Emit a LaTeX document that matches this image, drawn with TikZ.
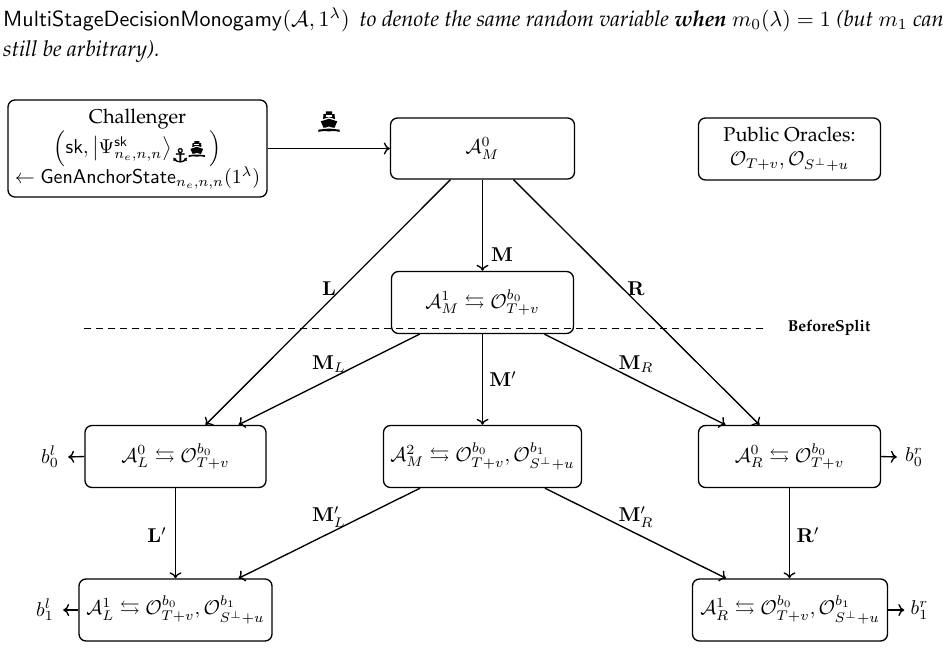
\documentclass[tikz,border=0pt]{standalone}
\usepackage{graphicx}
\usepackage{amsmath,amssymb}
\usepackage[no-math]{fontspec}
\newfontfamily\dejavuf[FakeBold=1.2]{DejaVu Sans}
\usetikzlibrary{calc,arrows.meta}
% ship glyph drawn as a solid shape, #1 = size of its 24-unit grid
\newcommand{\shipicon}[1]{\begin{tikzpicture}[x=#1/24,y=#1/24,baseline={(0,5.5)},sharp corners]
  \fill (8.5,24) -- (15.5,24) -- (15.5,21) -- (18,21) -- (18.5,15.5) -- (12,17.5) -- (5.5,15.5) -- (6,21) -- (8.5,21) -- cycle;
  \fill[white] (8.5,20) rectangle (15.5,18.2);
  \fill (12,15.8) -- (21,13) -- (18,6) .. controls (16,5.5) and (14,7) .. (12,7.5) .. controls (10,7) and (8,5.5) .. (6,6) -- (3,13) -- cycle;
  \fill (0.5,4) .. controls (3,3.5) and (5,5) .. (7,4.8) .. controls (9,4.5) and (10,4) .. (12,5) .. controls (14,4) and (15,4.5) .. (17,4.8) .. controls (19,5) and (21,3.5) .. (23.5,4) -- (23.5,1.5) .. controls (21,1.5) and (19,3) .. (17,2.5) -- (12,2) -- (7,2.5) .. controls (5,3) and (3,1.5) .. (0.5,1.5) -- cycle;
\end{tikzpicture}}
\newcommand{\anchoricon}{{\fontsize{9.5}{10}\dejavuf\symbol{"2693}}}
\newcommand{\cO}{\mathcal{O}}
\newcommand{\cA}{\mathcal{A}}
\newcommand{\OT}{\cO_{T+v}^{b_0}}
\newcommand{\OS}{\cO_{S^\perp+u}^{b_1}}
\newcommand{\pal}{\usefont{OT1}{ppl}{m}{n}}
\newcommand{\lab}[1]{\scalebox{2}{#1}}
\tikzset{
  stagebox/.style={draw,rounded corners=7pt,line width=1.35pt,inner sep=0pt,align=center},
  flow/.style={draw,line width=1.35pt,-{Computer Modern Rightarrow[length=6pt,width=12pt,line width=1.35pt]}},
  edgelabel/.style={inner sep=0pt},
  outlabel/.style={inner ysep=0pt,inner xsep=0pt},
  toptext/.style={inner sep=0pt,anchor=base west}
}
\begin{document}
\begin{tikzpicture}[x=1pt,y=-1pt]
\useasboundingbox (0,0) rectangle (948,649);
\node[toptext] (topa) at (3,26) {\scalebox{2.2}{$\mathsf{MultiStageDecisionMonogamy}(\cA,1^\lambda)$}\hspace{10pt}\scalebox{2.185}{\usefont{OT1}{ppl}{m}{it}to denote the same random variable \usefont{OT1}{ppl}{b}{it}when \usefont{OT1}{ppl}{m}{it}$m_0(\lambda)=1$ (but $m_1$ can}};
\node[toptext] (topb) at (3,56) {\scalebox{2.2}{\usefont{OT1}{ppl}{m}{it}still be arbitrary).}};
\node[stagebox,minimum width=259pt,minimum height=97pt] (ch) at (137.5,148.5) {\lab{\begin{tabular}{@{}c@{}}{\pal Challenger}\\[0pt]
  $\Big(\mathsf{sk},\left|\Psi^{\mathsf{sk}}_{n_e,n,n}\right\rangle_{\smash{\text{\anchoricon\raisebox{-3.5pt}{\shipicon{8.5pt}}}}}\Big)$\\[0pt]
  $\leftarrow\mathsf{GenAnchorState}_{n_e,n,n}(1^\lambda)$\end{tabular}}};
\node[stagebox,minimum width=184pt,minimum height=61pt] (am0) at (482.5,148.5) {\lab{$\cA_M^0$}};
\node[stagebox,minimum width=182pt,minimum height=62pt] (po) at (789.5,149) {\lab{\begin{tabular}{@{}c@{}}{\pal Public Oracles:}\\[0pt]$\cO_{T+v},\cO_{S^\perp+u}$\end{tabular}}};
\node[stagebox,minimum width=182pt,minimum height=62pt] (am1) at (482.5,302.5) {\lab{$\cA_M^1\leftrightarrows\OT$}};
\node[stagebox,minimum width=181pt,minimum height=62pt] (al0) at (175.5,456.5) {\lab{$\cA_L^0\leftrightarrows\OT$}};
\node[stagebox,minimum width=198pt,minimum height=62pt] (am2) at (482.5,456.5) {\lab{$\cA_M^2\leftrightarrows\OT,\OS$}};
\node[stagebox,minimum width=182pt,minimum height=62pt] (ar0) at (789.5,456.5) {\lab{$\cA_R^0\leftrightarrows\OT$}};
\node[stagebox,minimum width=193pt,minimum height=62pt] (al1) at (175.5,610) {\lab{$\cA_L^1\leftrightarrows\OT,\OS$}};
\node[stagebox,minimum width=195pt,minimum height=62pt] (ar1) at (790,610) {\lab{$\cA_R^1\leftrightarrows\OT,\OS$}};
\node[outlabel,minimum width=36pt] (bl0) at (50,457) {\lab{$b_0^l$}};
\node[outlabel,minimum width=36pt] (bl1) at (45,610) {\lab{$b_1^l$}};
\node[outlabel,minimum width=34pt] (br0) at (914,457) {\lab{$b_0^r$}};
\node[outlabel,minimum width=30pt] (br1) at (919.5,610) {\lab{$b_1^r$}};
\coordinate (dl) at (84,328.5);
\coordinate (dr) at (767,328.5);
\draw[line width=1.35pt,dash pattern=on 7pt off 5pt] (dl) -- (dr);
\node[inner sep=0pt] (bs) at (829,327.5) {\scalebox{1.58}{\usefont{OT1}{ppl}{b}{n}BeforeSplit}};
\draw[flow] (ch.east |- am0.west) -- (am0.west);
\node[inner sep=0pt] (shipl) at (329,125) {\shipicon{22pt}};
\draw[flow] ($(am0.south)+(-32,0)$) -- ($(al0.north)+(30,0)$);
\draw[flow] (am0.south) -- (am1.north);
\draw[flow] ($(am0.south)+(31,0)$) -- ($(ar0.north)+(-30,0)$);
\draw[flow] ($(am1.south)+(-63,0)$) -- ($(al0.north)+(63,0)$);
\draw[flow] (am1.south) -- (am1.south |- am2.north);
\draw[flow] ($(am1.south)+(62,0)$) -- ($(ar0.north)+(-64,0)$);
\draw[flow] (al0.south) -- (al0.south |- al1.north);
\draw[flow] ($(am2.south)+(-62.5,0)$) -- ($(al1.north)+(63,0)$);
\draw[flow] ($(am2.south)+(62.5,0)$) -- ($(ar1.north)+(-64,0)$);
\draw[flow] (ar0.south) -- (ar0.south |- ar1.north);
\draw[flow] (al0.west) -- (bl0.east);
\draw[flow] (al1.west) -- (bl1.east);
\draw[flow] (ar0.east) -- (br0.west);
\draw[flow] (ar1.east) -- (br1.west);
\node[edgelabel] (ll) at (329,289) {\lab{$\mathbf{L}$}};
\node[edgelabel] (lm) at (502,255) {\lab{$\mathbf{M}$}};
\node[edgelabel] (lr) at (636,289) {\lab{$\mathbf{R}$}};
\node[edgelabel] (lml) at (329,364) {\lab{$\mathbf{M}_L$}};
\node[edgelabel] (lmp) at (503,379) {\lab{$\mathbf{M}'$}};
\node[edgelabel] (lmr) at (636,364) {\lab{$\mathbf{M}_R$}};
\node[edgelabel] (llp) at (157,535) {\lab{$\mathbf{L}'$}};
\node[edgelabel] (lmlp) at (329,517) {\lab{$\mathbf{M}'_L$}};
\node[edgelabel] (lmrp) at (636,517) {\lab{$\mathbf{M}'_R$}};
\node[edgelabel] (lrp) at (808,535) {\lab{$\mathbf{R}'$}};
\end{tikzpicture}
\end{document}
